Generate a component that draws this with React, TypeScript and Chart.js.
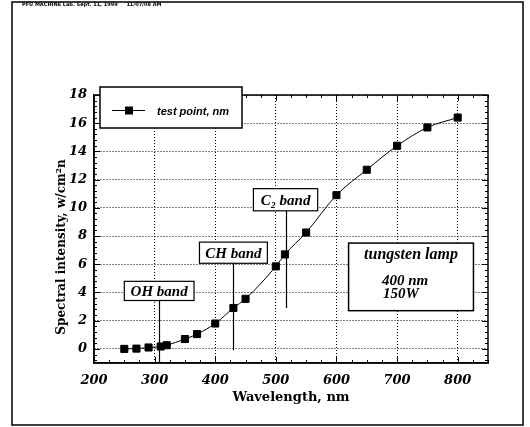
import React, { useEffect, useRef } from "react";
import { Chart, registerables } from "chart.js";

Chart.register(...registerables);

// ---- data ----
const wavelengths = [250, 270, 290, 310, 320, 350, 370, 400, 430, 450, 500, 515, 550, 600, 650, 700, 750, 800];
const intensities = [0.0, 0.02, 0.1, 0.17, 0.26, 0.7, 1.05, 1.8, 2.9, 3.55, 5.85, 6.7, 8.25, 10.9, 12.7, 14.4, 15.7, 16.4];
const xTicks = [200, 300, 400, 500, 600, 700, 800];
const yTicks = [0, 2, 4, 6, 8, 10, 12, 14, 16, 18];
const seriesLabel = "test point, nm";
const xTitle = "Wavelength, nm";
const yTitle = "Spectral intensity, w/cm\u00B2n";
const headerText = "PFU MACHINE Lab. Sept. 11, 1999     11/07/08 AM";
const bandLabels = ["OH band", "CH band", "C\u2082 band"];
const bandWavelengths = [307, 430, 516];
const bandLineEnds = [-1, -0.1, 2.9];
const lampLines = ["tungsten lamp", "400 nm", "150W"];

// ---- layout (data units for annotation placement) ----
const bandBoxes = [
  { x0: 250, x1: 365, y0: 3.43, y1: 4.79 },
  { x0: 374, x1: 486, y0: 6.07, y1: 7.57 },
  { x0: 463, x1: 569, y0: 9.79, y1: 11.36 },
];
const lampBox = { x0: 620, x1: 826, y0: 2.71, y1: 7.5 };

const serifBI = "bold italic 16px 'Liberation Serif', 'DejaVu Serif', serif";

const overlayPlugin = {
  id: "overlay",
  afterDraw(chart: any) {
    const { ctx, chartArea, scales } = chart;
    const xs = scales.x;
    const ys = scales.y;
    const px = (v: number) => xs.getPixelForValue(v);
    const py = (v: number) => ys.getPixelForValue(v);
    ctx.save();

    // minor ticks on all sides
    ctx.strokeStyle = "#000";
    ctx.lineWidth = 1;
    ctx.beginPath();
    for (let v = 200; v <= 850 + 1e-6; v += 25) {
      const x = Math.round(px(v)) + 0.5;
      const len = v % 100 === 0 ? 6 : 3;
      ctx.moveTo(x, chartArea.bottom);
      ctx.lineTo(x, chartArea.bottom - len);
      ctx.moveTo(x, chartArea.top);
      ctx.lineTo(x, chartArea.top + len);
    }
    for (let i = -2; i <= 45; i++) {
      const v = i * 0.4;
      if (v < -1 || v > 18) continue;
      const y = Math.round(py(v)) + 0.5;
      const len = Math.abs(v / 2 - Math.round(v / 2)) < 1e-6 ? 6 : 3;
      ctx.moveTo(chartArea.left, y);
      ctx.lineTo(chartArea.left + len, y);
      ctx.moveTo(chartArea.right, y);
      ctx.lineTo(chartArea.right - len, y);
    }
    ctx.stroke();

    // plot frame top & right
    ctx.lineWidth = 1.5;
    ctx.strokeRect(chartArea.left, chartArea.top, chartArea.right - chartArea.left, chartArea.bottom - chartArea.top);

    // band annotations
    ctx.lineWidth = 1.2;
    bandLabels.forEach((lab, i) => {
      const b = bandBoxes[i];
      const x0 = px(b.x0), x1 = px(b.x1), y0 = py(b.y1), y1 = py(b.y0);
      const lx = Math.round(px(bandWavelengths[i])) + 0.5;
      ctx.beginPath();
      ctx.moveTo(lx, y1);
      ctx.lineTo(lx, py(bandLineEnds[i]));
      ctx.stroke();
      ctx.fillStyle = "#fff";
      ctx.fillRect(x0, y0, x1 - x0, y1 - y0);
      ctx.strokeRect(x0, y0, x1 - x0, y1 - y0);
      ctx.fillStyle = "#000";
      ctx.font = "bold italic 15px 'Liberation Serif', 'DejaVu Serif', serif";
      ctx.textAlign = "center";
      ctx.textBaseline = "middle";
      ctx.fillText(lab, (x0 + x1) / 2, (y0 + y1) / 2 + 1);
    });

    // lamp box
    {
      const x0 = px(lampBox.x0), x1 = px(lampBox.x1), y0 = py(lampBox.y1), y1 = py(lampBox.y0);
      ctx.fillStyle = "#fff";
      ctx.fillRect(x0, y0, x1 - x0, y1 - y0);
      ctx.lineWidth = 1.5;
      ctx.strokeRect(x0, y0, x1 - x0, y1 - y0);
      ctx.fillStyle = "#000";
      ctx.textAlign = "center";
      ctx.textBaseline = "middle";
      const cx = (x0 + x1) / 2;
      ctx.font = serifBI;
      ctx.fillText(lampLines[0], cx, y0 + 12);
      ctx.font = "bold italic 15px 'Liberation Serif', 'DejaVu Serif', serif";
      ctx.fillText(lampLines[1], cx - 6, y0 + 38);
      ctx.fillText(lampLines[2], cx - 10, y0 + 51);
    }

    // legend box
    {
      const lx0 = chartArea.left + 6, ly0 = chartArea.top - 8, lw = 142, lh = 41;
      ctx.fillStyle = "#fff";
      ctx.fillRect(lx0, ly0, lw, lh);
      ctx.lineWidth = 1.5;
      ctx.strokeStyle = "#000";
      ctx.strokeRect(lx0, ly0, lw, lh);
      const my = ly0 + 23;
      ctx.lineWidth = 1;
      ctx.beginPath();
      ctx.moveTo(lx0 + 12, my + 0.5);
      ctx.lineTo(lx0 + 45, my + 0.5);
      ctx.stroke();
      ctx.fillStyle = "#000";
      ctx.fillRect(lx0 + 25, my - 3.5, 8, 8);
      ctx.font = "bold italic 11px 'Liberation Sans', 'DejaVu Sans', sans-serif";
      ctx.textAlign = "left";
      ctx.textBaseline = "middle";
      ctx.fillText(seriesLabel, lx0 + 57, my + 2);
    }

    // axis titles
    ctx.fillStyle = "#000";
    ctx.font = "bold 13px 'DejaVu Serif', serif";
    ctx.textAlign = "center";
    ctx.textBaseline = "middle";
    ctx.fillText(xTitle, (chartArea.left + chartArea.right) / 2, 398);
    ctx.save();
    ctx.translate(62, 247);
    ctx.rotate(-Math.PI / 2);
    ctx.font = "bold 12px 'DejaVu Serif', serif";
    ctx.fillText(yTitle, 0, 0);
    ctx.restore();

    // outer frame and header
    ctx.lineWidth = 1.5;
    ctx.strokeStyle = "#000";
    ctx.strokeRect(12, 2, 511, 423);
    ctx.font = "bold 5px 'DejaVu Sans', sans-serif";
    ctx.textAlign = "left";
    ctx.textBaseline = "middle";
    ctx.fillText(headerText, 22, 5);

    ctx.restore();
  },
};

export default function App() {
  const ref = useRef<HTMLCanvasElement | null>(null);
  useEffect(() => {
    if (!ref.current) return;
    const tickFont = { family: "'DejaVu Serif', serif", size: 13, style: "italic" as const, weight: "bold" as const };
    const chart = new Chart(ref.current, {
      type: "line",
      data: {
        datasets: [
          {
            label: seriesLabel,
            data: wavelengths.map((w, i) => ({ x: w, y: intensities[i] })),
            borderColor: "#000",
            borderWidth: 1,
            backgroundColor: "#000",
            pointStyle: "rect",
            pointRadius: 5,
            pointBorderWidth: 1,
            pointBorderColor: "#000",
            pointBackgroundColor: "#000",
            cubicInterpolationMode: "monotone",
            fill: false,
          },
        ],
      },
      options: {
        animation: false,
        responsive: false,
        devicePixelRatio: 1,
        layout: { padding: { left: 0, top: 95, right: 42, bottom: 0 } },
        plugins: { legend: { display: false }, tooltip: { enabled: false }, title: { display: false } },
        scales: {
          x: {
            type: "linear",
            min: 200,
            max: 850,
            afterBuildTicks: (s: any) => { s.ticks = xTicks.map((v) => ({ value: v })); },
            afterFit: (s: any) => { s.height = 64; },
            grid: { color: "#000", lineWidth: 1, drawTicks: false },
            border: { display: true, color: "#000", width: 1.5, dash: [1, 2] },
            ticks: { color: "#000", font: tickFont, padding: 10, maxRotation: 0 },
          },
          y: {
            type: "linear",
            min: -1,
            max: 18,
            afterBuildTicks: (s: any) => { s.ticks = yTicks.map((v) => ({ value: v })); },
            afterFit: (s: any) => { s.width = 94; },
            grid: { color: "#000", lineWidth: 1, drawTicks: false },
            border: { display: true, color: "#000", width: 1.5, dash: [1, 2] },
            ticks: { color: "#000", font: tickFont, padding: 7 },
          },
        },
      },
      plugins: [overlayPlugin],
    });
    return () => chart.destroy();
  }, []);
  return (
    <div style={{ position: "fixed", left: 0, top: 0, width: 530, height: 427, background: "#fff" }}>
      <canvas ref={ref} width={530} height={427} style={{ width: 530, height: 427, display: "block" }} />
    </div>
  );
}
